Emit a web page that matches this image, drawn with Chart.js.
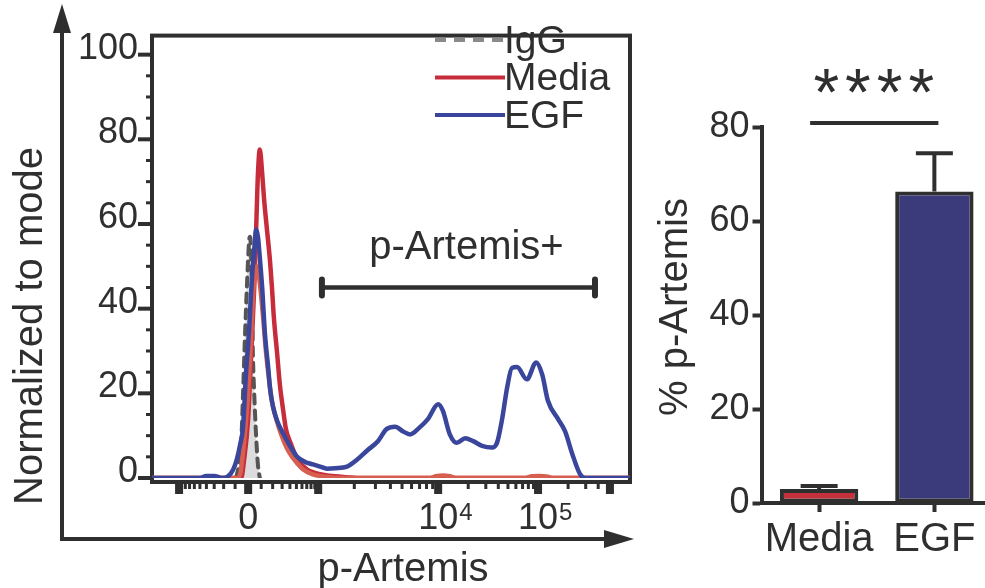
<!DOCTYPE html>
<html>
<head>
<meta charset="utf-8">
<script src="https://cdn.jsdelivr.net/npm/chart.js@4.4.1/dist/chart.umd.min.js"></script>
<style>
  html, body { margin: 0; padding: 0; background: #fff; overflow: hidden; }
  #wrap { position: relative; width: 985px; height: 588px; overflow: hidden; }
  canvas { position: absolute; left: 0; top: 0; }
</style>
</head>
<body>
<div id="wrap">
  <canvas id="histo" width="985" height="588"></canvas>
  <canvas id="bars" width="1000" height="588"></canvas>
</div>
<script>
const FONT = "'Liberation Sans', Arial, sans-serif";
const INK = '#2f2f2f';

// histogram: x = display channel of the biexponential axis (0-1024), y = % of mode
const iggCh = [180, 186, 191, 195, 199, 204, 208, 210, 214, 216, 219, 223, 227, 231];
const iggVal = [0, 3, 8, 20, 33, 47, 56, 57, 45, 30, 20, 10, 3, 0];

const mediaCh = [0, 191, 197, 206, 212, 219, 224, 227, 231, 236, 240, 246, 253, 257, 261, 268, 274, 281, 287, 296, 311, 332, 349, 366, 392, 418, 446, 1024];
const mediaVal = [0, 0, 4, 14, 28, 45, 62, 72, 77.6, 72, 66, 59, 51, 45, 38, 29.5, 22, 16, 11.5, 8.5, 4.5, 2, 1.2, 0.8, 0.4, 0.2, 0, 0];

// second (lighter red) media trace
const media2Ch = [0, 182, 189, 195, 204, 210, 216, 221, 225, 231, 238, 244, 251, 257, 266, 276, 289, 300, 311, 324, 343, 371, 414, 596, 608, 623, 638, 651, 799, 814, 831, 848, 859, 1024];
const media2Val = [0, 0, 1, 6, 17, 28, 42, 49, 50, 46, 38, 30, 23, 18, 14, 10.5, 7, 5, 3.5, 2, 0.9, 0.3, 0, 0, 0.4, 0.6, 0.4, 0, 0, 0.4, 0.5, 0.3, 0, 0];

const egfCh = [0, 103, 116, 133, 150, 163, 174, 182, 189, 195, 201, 208, 214, 219, 223, 227, 231, 236, 242, 249, 253, 259, 268, 281, 296, 311, 328, 345, 360, 375, 392, 418, 439, 461, 484, 503, 521, 538, 553, 570, 591, 613, 623, 638, 653, 671, 688, 707, 728, 739, 750, 761, 771, 782, 803, 823, 836, 848, 870, 885, 900, 917, 928, 1024];
const egfVal = [0, 0, 0.5, 0.5, 0, 0.4, 2, 4.5, 8, 12, 24, 35, 47, 54, 58.7, 57, 52, 45, 34, 26, 21, 17, 13.5, 10.5, 7.5, 5, 3.8, 3.2, 2.7, 2.2, 2.3, 2.7, 4.3, 6.5, 8.7, 11.6, 12.1, 11.0, 10.3, 11.6, 13.9, 17.4, 15.9, 10.3, 8.3, 9.4, 8.7, 7.6, 7.2, 8.3, 13.9, 21.5, 26.0, 26.2, 23.3, 27.3, 24.4, 18.3, 13.9, 11.0, 5.8, 0.9, 0, 0];

const histoYTicks = [0, 20, 40, 60, 80, 100];
const xMajorCh = [58, 206, 356, 613, 827, 981];
const xMajorLabels = ['', '0', '', '10^4', '10^5', ''];
const legendNames = ['IgG', 'Media', 'EGF'];
const gate = { from: 364, to: 949, y: 45, label: 'p-Artemis+' };

// bar panel
const groups = ['Media', 'EGF'];
const pctMean = [3.0, 66.3];
const pctSem = [0.6, 8.1];
const pctTicks = [0, 20, 40, 60, 80];
const signif = '****';

Chart.defaults.font.family = FONT;
Chart.defaults.color = INK;

const pts = (xs, ys) => xs.map((x, i) => ({ x, y: ys[i] }));

// channel position of an intensity value, anchored on the labelled decades
function chOf(v) {
  const zero = 206, lin = 150;
  if (Math.abs(v) <= 1000) return zero + Math.sign(v) * lin * Math.asinh(Math.abs(v) / 250) / Math.asinh(4);
  const dec = [356, 613, 827, 1041];
  const k = Math.floor(Math.log10(v)) - 3;
  return dec[k] + (dec[k + 1] - dec[k]) * (Math.log10(v) - (k + 3));
}
const minorVals = [];
for (let m = 1; m <= 9; m++) { minorVals.push(m * 100, -m * 100); }
for (let m = 2; m <= 9; m++) { minorVals.push(m * 1e3, m * 1e4); }
for (let m = 2; m <= 4; m++) minorVals.push(m * 1e5);

const histoDeco = {
  id: 'histoDeco',
  beforeDatasetsDraw(chart) {
    const { ctx, chartArea: a } = chart;
    ctx.save();
    ctx.strokeStyle = INK;
    ctx.lineWidth = 4;
    ctx.strokeRect(a.left, a.top, a.right - a.left, a.bottom + 4 - a.top);
    ctx.restore();
  },
  afterDraw(chart) {
    const { ctx, chartArea: a, scales: { x: xs, y: ys } } = chart;
    ctx.save();
    ctx.fillStyle = INK;
    ctx.strokeStyle = INK;

    // y ticks every 5
    for (let v = 0; v <= 100; v += 5) {
      const y = ys.getPixelForValue(v);
      if (v % 20 === 0) ctx.fillRect(a.left - 14, y - 2, 14, 4);
      else ctx.fillRect(a.left - 6, y - 1.5, 6, 3);
    }
    // x ticks
    const base = a.bottom + 4;
    minorVals.forEach(v => {
      const x = xs.getPixelForValue(chOf(v));
      ctx.fillRect(x - 1.5, base, 3, 7);
    });
    xMajorCh.forEach(c => {
      const x = xs.getPixelForValue(c);
      ctx.fillRect(x - 4, base, 8, 12);
    });
    // x tick labels with superscripts
    ctx.textBaseline = 'alphabetic';
    xMajorCh.forEach((c, i) => {
      const lab = xMajorLabels[i];
      if (!lab) return;
      const x = xs.getPixelForValue(c);
      const [b, sup] = lab.split('^');
      ctx.font = `36px ${FONT}`;
      ctx.textAlign = 'center';
      ctx.fillText(b, x, 529);
      if (sup) {
        const w = ctx.measureText(b).width;
        ctx.font = `24px ${FONT}`;
        ctx.textAlign = 'left';
        ctx.fillText(sup, x + w / 2 + 1, 520);
      }
    });

    // legend
    legendNames.forEach((name, i) => {
      const ds = chart.data.datasets.find(d => d.label === name);
      const y = 40 + i * 37.5;
      ctx.save();
      ctx.strokeStyle = name === 'IgG' ? '#8a8a8a' : ds.borderColor;
      ctx.lineWidth = 4;
      ctx.setLineDash(ds.borderDash ? [11, 8] : []);
      ctx.beginPath(); ctx.moveTo(435, y); ctx.lineTo(505, y); ctx.stroke();
      ctx.restore();
      ctx.font = `39px ${FONT}`;
      ctx.textAlign = 'left';
      ctx.textBaseline = 'middle';
      ctx.fillText(name, 504, y + 2);
    });

    // gate
    const g1 = xs.getPixelForValue(gate.from), g2 = xs.getPixelForValue(gate.to), gy = ys.getPixelForValue(gate.y);
    ctx.lineWidth = 4.5;
    ctx.beginPath(); ctx.moveTo(g1, gy); ctx.lineTo(g2, gy); ctx.stroke();
    ctx.lineWidth = 6; ctx.lineCap = 'round';
    ctx.beginPath(); ctx.moveTo(g1, gy - 8); ctx.lineTo(g1, gy + 8); ctx.moveTo(g2, gy - 8); ctx.lineTo(g2, gy + 8); ctx.stroke();
    ctx.lineCap = 'butt';
    ctx.font = `40px ${FONT}`;
    ctx.textAlign = 'center';
    ctx.textBaseline = 'middle';
    ctx.fillText(gate.label, (g1 + g2) / 2 + 8, gy - 40);

    // outer arrows
    ctx.lineWidth = 4;
    ctx.lineJoin = 'miter';
    ctx.beginPath(); ctx.moveTo(62, 30); ctx.lineTo(62, 539); ctx.lineTo(606, 539); ctx.stroke();
    ctx.beginPath(); ctx.moveTo(62, 4); ctx.lineTo(53, 33); ctx.lineTo(71, 33); ctx.closePath(); ctx.fill();
    ctx.beginPath(); ctx.moveTo(634, 539); ctx.lineTo(604, 530); ctx.lineTo(604, 548); ctx.closePath(); ctx.fill();

    // axis titles
    ctx.font = `40px ${FONT}`;
    ctx.textAlign = 'center';
    ctx.textBaseline = 'alphabetic';
    ctx.fillText('p-Artemis', 403, 581);
    ctx.save();
    ctx.translate(42, 326);
    ctx.rotate(-Math.PI / 2);
    ctx.fillText('Normalized to mode', 0, 0);
    ctx.restore();
    ctx.restore();
  }
};

new Chart(document.getElementById('histo'), {
  type: 'line',
  data: {
    datasets: [
      { label: 'EGF', data: pts(egfCh, egfVal), borderColor: '#39469b', borderWidth: 4.5, order: 1 },
      { label: '', data: pts(media2Ch, media2Val), borderColor: '#d65f50', borderWidth: 4.5, order: 2 },
      { label: 'Media', data: pts(mediaCh, mediaVal), borderColor: '#c72c3a', borderWidth: 4.5, order: 3 },
      { label: 'IgG', data: pts(iggCh, iggVal), borderColor: '#555555', borderWidth: 4, borderDash: [9, 7],
        fill: 'origin', backgroundColor: '#dcdcdc', order: 4 }
    ]
  },
  options: {
    responsive: false,
    animation: false,
    devicePixelRatio: 1,
    layout: { padding: { top: 12, right: 355, bottom: 110, left: 0 } },
    elements: {
      point: { radius: 0 },
      line: { cubicInterpolationMode: 'monotone', tension: 0.4, fill: false, borderJoinStyle: 'round', borderCapStyle: 'round' }
    },
    plugins: { legend: { display: false }, tooltip: { enabled: false } },
    scales: {
      x: { type: 'linear', min: 0, max: 1024, display: false },
      y: {
        min: 0, max: 104.5,
        afterFit: s => { s.width = 152; },
        afterBuildTicks: s => { s.ticks = histoYTicks.map(v => ({ value: v })); },
        grid: { display: false, drawTicks: false },
        border: { display: false },
        ticks: { font: { size: 36 }, color: INK, padding: 14, labelOffset: -6 }
      }
    }
  },
  plugins: [histoDeco]
});

const barDeco = {
  id: 'barDeco',
  afterDatasetsDraw(chart) {
    const { ctx, chartArea: a, scales: { y } } = chart;
    const bars = chart.getDatasetMeta(0).data;
    ctx.save();
    ctx.strokeStyle = INK;
    ctx.fillStyle = INK;
    ctx.lineWidth = 4;
    pctMean.forEach((m, i) => {
      const x = bars[i].x;
      const top = y.getPixelForValue(m + pctSem[i]);
      const base = y.getPixelForValue(m);
      ctx.beginPath();
      ctx.moveTo(x, base); ctx.lineTo(x, top);
      ctx.moveTo(x - 18.5, top); ctx.lineTo(x + 18.5, top);
      ctx.stroke();
    });
    const ly = a.top - 4;
    ctx.beginPath(); ctx.moveTo(bars[0].x - 9, ly); ctx.lineTo(bars[1].x + 4, ly); ctx.stroke();
    ctx.font = `66px ${FONT}`;
    ctx.textAlign = 'center';
    ctx.textBaseline = 'alphabetic';
    ctx.letterSpacing = '6px';
    ctx.fillText(signif, (bars[0].x + bars[1].x) / 2 - 3 + 3, ly - 8);
    ctx.letterSpacing = '0px';
    ctx.font = `40px ${FONT}`;
    ctx.translate(687, 307);
    ctx.rotate(-Math.PI / 2);
    ctx.fillText('% p-Artemis', 0, 0);
    ctx.restore();
  }
};

const tickGrid = { display: true, drawOnChartArea: false, offset: false, drawTicks: true, tickLength: 9, tickWidth: 4, tickColor: INK };

new Chart(document.getElementById('bars'), {
  type: 'bar',
  data: {
    labels: groups,
    datasets: [{
      data: pctMean,
      backgroundColor: ['#c4303b', '#3b3a7a'],
      borderColor: INK,
      borderWidth: 4,
      borderSkipped: false,
      barPercentage: 0.68,
      categoryPercentage: 1
    }]
  },
  options: {
    responsive: false,
    animation: false,
    devicePixelRatio: 1,
    layout: { padding: { top: 127, right: 8, bottom: 0, left: 0 } },
    plugins: { legend: { display: false }, tooltip: { enabled: false } },
    scales: {
      x: {
        afterFit: s => { s.height = 85; },
        grid: tickGrid,
        border: { display: true, width: 4, color: INK },
        ticks: { font: { size: 40 }, color: INK, padding: 4 }
      },
      y: {
        min: 0, max: 80,
        afterFit: s => { s.width = 761.5; },
        afterBuildTicks: s => { s.ticks = pctTicks.map(v => ({ value: v })); },
        grid: tickGrid,
        border: { display: true, width: 4, color: INK },
        ticks: { font: { size: 36 }, color: INK, padding: 3 }
      }
    }
  },
  plugins: [barDeco]
});
</script>
</body>
</html>
